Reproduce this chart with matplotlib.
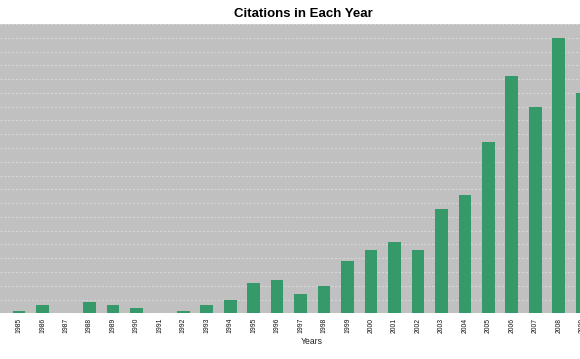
import matplotlib
matplotlib.use('Agg')
import matplotlib.pyplot as plt
import numpy as np

years = [str(y) for y in range(1985, 2010)]
citations = [1, 3, 0, 4, 3, 2, 0, 1, 3, 5, 11, 12, 7, 10, 19,
             23, 26, 23, 38, 43, 62, 86, 75, 100, 80]

plt.rcParams['font.family'] = ['Liberation Sans', 'DejaVu Sans']

fig = plt.figure(figsize=(5.8, 3.59), dpi=100)
# plot area is cropped on both sides in the original
ax = fig.add_axes([0.0, 0.1273, 1.028, 0.8058])
ax.set_facecolor('#c0c0c0')

x = np.arange(len(years))
ax.bar(x, citations, width=0.54, color='#36996a', zorder=3)

ax.set_xlim(-0.81, 24.6)
ax.set_ylim(0, 105)
ax.set_yticks(np.arange(0, 106, 5))
ax.yaxis.grid(True, color='#d6d6d6', linestyle=(0, (2, 1.5)), linewidth=0.8, zorder=1)
ax.tick_params(axis='y', left=False, labelleft=False)

ax.set_xticks(x)
ax.set_xticklabels(years, rotation=90, fontsize=4.9, color='#111111')
ax.tick_params(axis='x', length=0, pad=3.2)

for s in ax.spines.values():
  s.set_visible(False)

fig.text(303/580, 1 - 14/359, 'Citations in Each Year', ha='center', va='center',
         fontsize=9.5, fontweight='bold')
fig.text(312/580, 1 - 341.5/359, 'Years', ha='center', va='center', fontsize=6.2, color='#222222')

fig.savefig('out.png', dpi=100)
